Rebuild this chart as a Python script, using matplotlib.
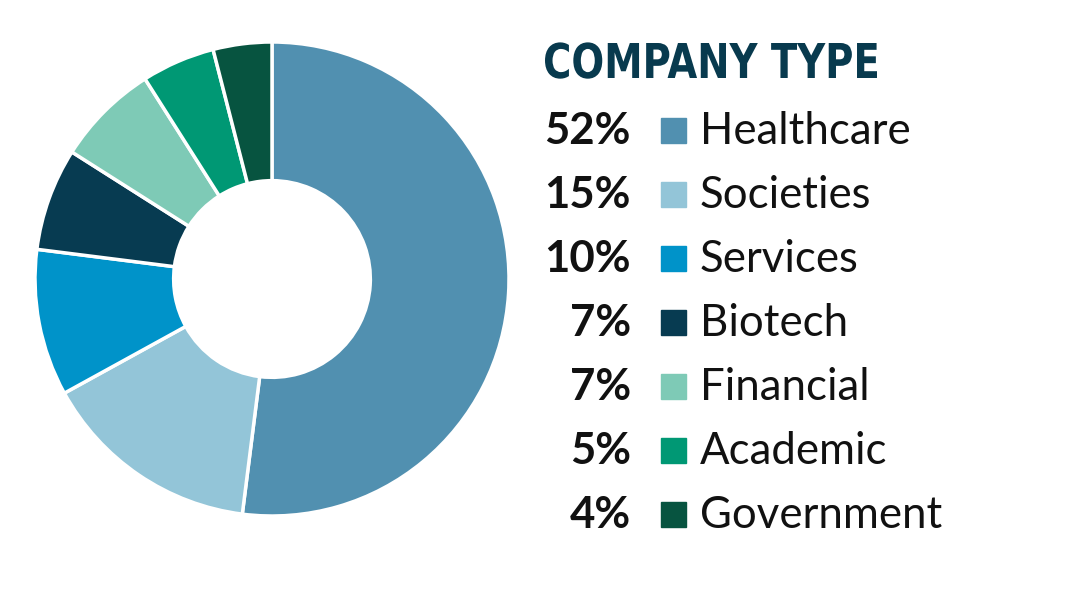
import matplotlib
matplotlib.use("Agg")
import matplotlib.pyplot as plt
from matplotlib.patches import Rectangle, PathPatch
from matplotlib.textpath import TextPath
from matplotlib.font_manager import FontProperties
from matplotlib.transforms import Affine2D

categories = ["Healthcare", "Societies", "Services", "Biotech", "Financial", "Academic", "Government"]
shares = [52, 15, 10, 7, 7, 5, 4]
colors = ["#5190B0", "#93C5D8", "#0093C9", "#073B51", "#7ECAB6", "#009874", "#075440"]
title = "COMPANY TYPE"

W, H = 1067, 600
fig = plt.figure(figsize=(W / 100, H / 100), dpi=100)

# donut, centre ~ (272, 279) px, outer radius ~237 px
cx, cy, r = 272, 279, 237
ax = fig.add_axes([(cx - r) / W, 1 - (cy + r) / H, 2 * r / W, 2 * r / H])
ax.pie(shares, colors=colors, startangle=90, counterclock=False,
       wedgeprops=dict(width=0.585, edgecolor="white", linewidth=2.5))
ax.set_aspect("equal")
ax.set_xlim(-1, 1)
ax.set_ylim(-1, 1)
ax.axis("off")

# legend drawn on an overlay in pixel coords
lax = fig.add_axes([0, 0, 1, 1])
lax.set_xlim(0, W)
lax.set_ylim(H, 0)
lax.axis("off")

# condensed bold title: squeeze a text path horizontally
tp = TextPath((0, 0), title, size=48, prop=FontProperties(family="DejaVu Sans", weight="bold"))
ext = tp.get_extents()
sx = (877 - 545) / ext.width
trans = Affine2D().translate(-ext.x0, 0).scale(sx, -1).translate(545, 78)
lax.add_patch(PathPatch(trans.transform_path(tp), color="#083A4E", lw=0))

y0, dy = 131, 64
for i, (cat, val, col) in enumerate(zip(categories, shares, colors)):
    y = y0 + i * dy
    lax.text(631, y, f"{val}%", fontsize=31.5, family="Lato", fontweight="bold",
             color="#111111", ha="right", va="center")
    lax.add_patch(Rectangle((661, y - 13.5), 25, 25, color=col))
    lax.text(700, y, cat, fontsize=31.5, family="Lato", color="#111111",
             ha="left", va="center")

fig.savefig("out.png", dpi=100)
